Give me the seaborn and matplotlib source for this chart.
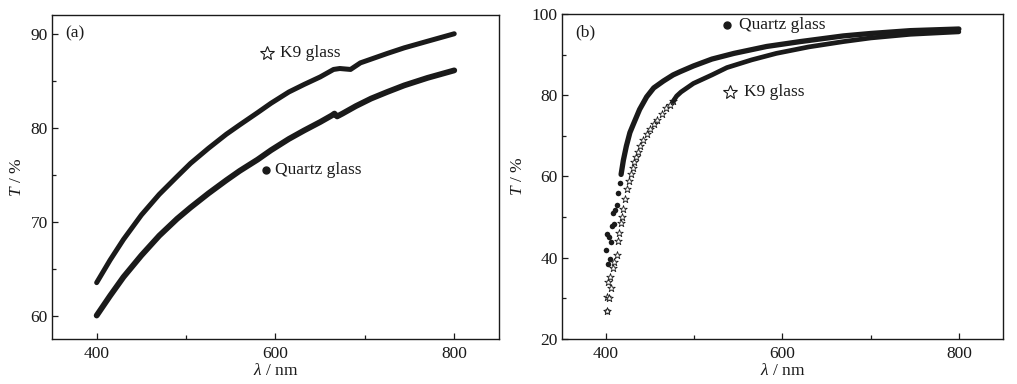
import seaborn            as sns
import matplotlib.pyplot  as plt


# ---- panel (a) : transmittance, K9 vs quartz ----
k9_a_wl = [400, 415, 430, 450, 470, 490, 505, 525, 545, 560, 580, 595, 615, 632,
           650, 665, 672, 684, 695, 707, 725, 744, 770, 800]
k9_a_T  = [63.5, 65.9, 68.1, 70.7, 72.9, 74.8, 76.2, 77.8, 79.3, 80.3, 81.6, 82.6,
           83.8, 84.6, 85.4, 86.2, 86.3, 86.2, 86.9, 87.3, 87.9, 88.5, 89.2, 90.0]

qz_a_wl = [400, 415, 430, 450, 470, 490, 505, 525, 545, 560, 580, 595, 615, 632,
           650, 663, 666, 669, 675, 690, 707, 725, 744, 770, 800]
qz_a_T  = [60.0, 62.1, 64.1, 66.4, 68.5, 70.3, 71.5, 73.0, 74.4, 75.4, 76.6, 77.6,
           78.8, 79.7, 80.6, 81.3, 81.5, 81.2, 81.5, 82.3, 83.1, 83.8, 84.5, 85.3, 86.1]

# ---- panel (b) ----
# sparse points at the absorption edge
qz_b_dots_wl = [400.8, 400.0, 402.6, 404.5, 400.8, 403.7, 405.3, 406.4, 409.0,
                408.3, 410.2, 412.1, 414.0, 415.9]
qz_b_dots_T  = [27.0, 41.9, 38.5, 39.6, 45.8, 45.2, 43.9, 47.8, 48.3,
                50.9, 51.8, 53.0, 55.9, 58.5]
qz_b_wl = [417, 419.6, 423, 427, 431, 438, 446, 454, 465, 476, 484, 499, 520,
           545, 582, 620, 669, 700, 745, 800]
qz_b_T  = [60.5, 64.0, 67.5, 70.8, 72.9, 76.5, 79.6, 81.8, 83.5, 85.0, 85.8, 87.2,
           88.9, 90.3, 92.0, 93.2, 94.6, 95.2, 95.9, 96.3]

k9_b_stars_wl = [400.8, 400.8, 403.7, 402.6, 405.3, 404.5, 407.5, 409.0, 412.1,
                 413.9, 415.1, 416.6, 417.7, 419.6, 421.5, 424, 426, 428, 430,
                 432, 434, 436, 439, 442, 446, 450, 454, 458, 463, 468, 472, 476]
k9_b_stars_T  = [27.0, 30.4, 30.0, 34.1, 32.5, 35.3, 37.4, 39.0, 40.7,
                 44.0, 46.0, 48.5, 50.1, 52.0, 54.5, 57.0, 58.8, 60.5, 62.0,
                 63.5, 64.8, 66.0, 67.6, 69.0, 70.5, 71.8, 73.0, 74.0, 75.5,
                 76.8, 77.6, 78.5]
k9_b_wl = [476, 480, 485, 499, 520, 537, 565, 593, 630, 669, 700, 745, 800]
k9_b_T  = [78.5, 79.8, 80.8, 82.9, 85.0, 86.8, 88.7, 90.3, 91.9, 93.2, 94.1,
           95.0, 95.6]

INK = '#1a1a1a'

sns.set_theme(style='ticks')
plt.rcParams['font.family']      = ['Liberation Serif', 'DejaVu Serif']
plt.rcParams['mathtext.fontset'] = 'custom'
plt.rcParams['mathtext.rm']      = 'Liberation Serif'
plt.rcParams['mathtext.it']      = 'Liberation Serif:italic'

ROUND = dict(solid_joinstyle='round', solid_capstyle='round')


def style_axis(ax, yticks, yminor):
    ax.set_xlim(350, 850)
    ax.set_xticks([400, 600, 800])
    ax.set_xticks([500, 700], minor=True)
    ax.set_yticks(yticks)
    ax.set_yticks(yminor, minor=True)
    ax.tick_params(which='both', direction='in', width=0.9, colors=INK,
                   labelsize=12.5, top=False, right=False)
    ax.tick_params(which='major', length=4.5)
    ax.tick_params(which='minor', length=2.8)
    ax.tick_params(axis='x', pad=5)
    ax.tick_params(axis='y', pad=3)
    for sp in ax.spines.values():
        sp.set_visible(True)
        sp.set_linewidth(1.0)
        sp.set_color(INK)
    ax.set_xlabel(r'$\lambda$ / nm', fontsize=12.5, color=INK, labelpad=1)
    ax.set_ylabel(r'$T$ / %', fontsize=12.5, color=INK, labelpad=4)


fig = plt.figure(figsize=(10.17, 3.84), dpi=100)
ax_a = fig.add_axes([0.0511, 0.1172, 0.4395, 0.8438])
ax_b = fig.add_axes([0.5526, 0.1172, 0.4336, 0.8464])

# (a)
sns.lineplot(x=k9_a_wl, y=k9_a_T, ax=ax_a, color=INK, linewidth=3.6, sort=False, **ROUND)
sns.lineplot(x=qz_a_wl, y=qz_a_T, ax=ax_a, color=INK, linewidth=4.2, sort=False, **ROUND)
ax_a.set_ylim(57.5, 92)
style_axis(ax_a, [60, 70, 80, 90], [65, 75, 85])
ax_a.text(0.03, 0.944, '(a)', transform=ax_a.transAxes, fontsize=12.5,
          color=INK, va='center')
ax_a.plot([591], [87.95], marker='*', ms=10, mfc='white', mec=INK, mew=0.8)
ax_a.text(605, 87.95, 'K9 glass', fontsize=12.5, color=INK, va='center')
ax_a.plot([589], [75.5], marker='o', ms=5, color=INK)
ax_a.text(600, 75.5, 'Quartz glass', fontsize=12.5, color=INK, va='center')

# (b)
sns.scatterplot(x=qz_b_dots_wl, y=qz_b_dots_T, ax=ax_b, color=INK, s=16,
                linewidth=0)
sns.lineplot(x=qz_b_wl, y=qz_b_T, ax=ax_b, color=INK, linewidth=3.8, sort=False, **ROUND)
sns.scatterplot(x=k9_b_stars_wl, y=k9_b_stars_T, ax=ax_b, marker='*', s=32,
                facecolor='white', edgecolor=INK, linewidth=0.6)
sns.lineplot(x=k9_b_wl, y=k9_b_T, ax=ax_b, color=INK, linewidth=3.4, sort=False, **ROUND)
ax_b.set_ylim(20, 100)
style_axis(ax_b, [20, 40, 60, 80, 100], [30, 50, 70, 90])
ax_b.text(0.03, 0.944, '(b)', transform=ax_b.transAxes, fontsize=12.5,
          color=INK, va='center')
ax_b.plot([537.5], [97.3], marker='o', ms=5, color=INK)
ax_b.text(551, 97.3, 'Quartz glass', fontsize=12.5, color=INK, va='center')
ax_b.plot([541], [80.8], marker='*', ms=10, mfc='white', mec=INK, mew=0.8)
ax_b.text(556, 80.8, 'K9 glass', fontsize=12.5, color=INK, va='center')

fig.savefig('out.png', dpi=100)
